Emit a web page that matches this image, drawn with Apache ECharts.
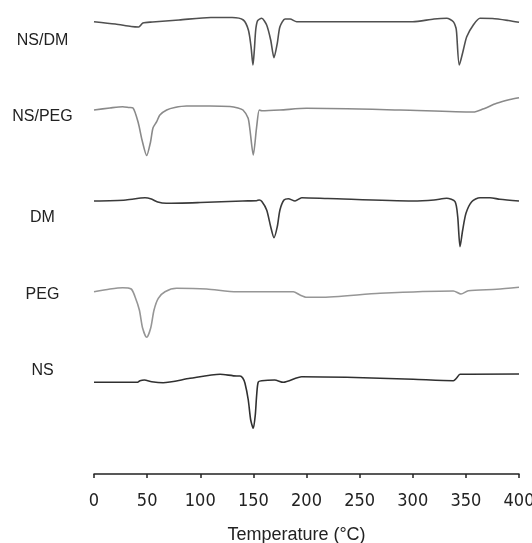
<!DOCTYPE html>
<html>
<head>
<meta charset="utf-8">
<script src="https://cdn.jsdelivr.net/npm/echarts@6/dist/echarts.min.js"></script>
<style>html,body{margin:0;padding:0;background:#fff;}#chart{width:532px;height:543px;}</style>
</head>
<body>
<div id="chart"></div>
<script>
// Curve names (top to bottom)
var sampleNames = ['NS/DM', 'NS/PEG', 'DM', 'PEG', 'NS'];
// X axis ticks (Temperature, °C)
var tempTicks = [0, 50, 100, 150, 200, 250, 300, 350, 400];

// DSC curves: [temperature °C, heat flow (a.u., stacked with offsets)]
var nsdm = [[0,452.3],[20,450],[35,447.5],[42,447],[46,451],[55,452],[80,454],[110,456.5],[130,456.5],[140.5,454],[145.3,444],[147.8,427.3],[149.6,409],[150.9,424],[152.2,444],[154,453.3],[157.8,455.7],[162.5,449],[166.3,434],[169.4,416.3],[172.5,430.7],[175,447.3],[179.8,455],[184.5,455],[190.8,452.3],[250,452.3],[300,452.3],[320,455],[332,455.7],[338.2,452.3],[340.7,446],[341.3,441],[343.8,409],[347.6,424],[350.8,437.3],[357,449],[363.3,455.7],[375,455.5],[390,453.5],[400,451.7]];
var nspeg = [[0,364],[15,366],[27,367.3],[33,366.5],[36.7,366],[41.7,351],[45.2,334],[49.6,318.5],[53.2,332],[55.5,346],[59,352.3],[62,359],[68.4,364],[76,366.5],[87.2,368],[109,368],[128,367.5],[135.5,366],[140.2,364],[145,356],[146.8,344],[149.9,319],[153.1,347.3],[155.6,364],[158,363.3],[175,364],[200,365.7],[288,364],[357,362],[366,365],[379,370.7],[391.5,374.5],[400,376.3]];
var dm = [[0,273],[30,274],[44,276],[48,276.3],[54,275],[60,272],[68,270.7],[100,271.5],[140,273],[153,273.3],[155.5,274],[158,272.5],[162.5,264],[166.3,247.3],[169.4,236.3],[172.5,247.3],[175,264],[178.8,274],[182.9,275.3],[189.2,273],[195.5,276.3],[220,275.5],[300,273],[320,274],[332,275.7],[339.8,272.3],[342.3,257.3],[344.5,227.3],[347,244],[350.1,260.7],[355.5,272.3],[363.3,276.3],[372.7,276.3],[382,274.7],[400,273]];
var peg = [[0,182.3],[15,185],[27,186.3],[35,185],[38.6,177.3],[42.7,164],[45.8,145.7],[49.6,136.7],[53.3,145.7],[56.5,164],[60.5,175.7],[66.8,182.3],[77.8,185.7],[106,185],[134.3,182.3],[187.6,182.3],[193.9,179],[200.2,176.7],[212.7,176.7],[269.2,180.7],[338.2,183],[345.4,180],[352.3,183.3],[379,184.7],[400,186.7]];
var ns = [[0,91.7],[41,91.7],[43.3,93.3],[47.4,94],[54.3,92.3],[65,91.3],[90.4,95.7],[118.6,99.7],[134.3,98],[137.4,98],[140,96],[142.1,90.7],[145.2,74],[147.5,54],[149.9,45.7],[151.8,59],[153.1,79],[154.6,92],[157.8,93.3],[170,94],[178.2,91.7],[195.5,97.3],[237.8,96.7],[300.5,94.7],[338.2,93.3],[341.3,96],[344.5,99.7],[400,100]];

var curves = [nsdm, nspeg, dm, peg, ns];
var colors = ['#505050', '#8a8a8a', '#3a3a3a', '#969696', '#303030'];
var labelY = [40.8, 116.5, 217.2, 294.2, 371];

// pick a condensed font for tick labels if one is installed
function hasFont(name) {
  var ctx = document.createElement('canvas').getContext('2d');
  var s = '0123456789 mmmwwwiii';
  ctx.font = '40px monospace';
  var a = ctx.measureText(s).width;
  ctx.font = '40px "' + name + '", monospace';
  var b = ctx.measureText(s).width;
  return a !== b;
}
var narrowCandidates = ['Liberation Sans Narrow', 'Arial Narrow', 'DejaVu Sans Condensed', 'Roboto Condensed', 'Open Sans Condensed'];
var tickFont = '"Liberation Sans", Arial, sans-serif';
var tickSize = 16;
for (var k = 0; k < narrowCandidates.length; k++) {
  if (hasFont(narrowCandidates[k])) {
    tickFont = '"' + narrowCandidates[k] + '"';
    tickSize = narrowCandidates[k].indexOf('DejaVu') >= 0 ? 18 : 19;
    break;
  }
}

var chart = echarts.init(document.getElementById('chart'), null, {renderer: 'canvas'});
var series = curves.map(function (d, i) {
  return {
    name: sampleNames[i],
    type: 'line',
    data: d,
    showSymbol: false,
    smooth: 0.25,
    lineStyle: {color: colors[i], width: 1.6},
    animation: false
  };
});
var graphics = sampleNames.map(function (n, i) {
  return {
    type: 'text',
    x: 42.5,
    y: labelY[i],
    style: {
      text: n,
      fill: '#222',
      font: '16px "Liberation Sans", Arial, sans-serif',
      textAlign: 'center',
      textVerticalAlign: 'middle'
    }
  };
});
chart.setOption({
  animation: false,
  backgroundColor: '#fff',
  grid: {left: 94, right: 13, top: 0, bottom: 69, outerBoundsMode: 'none', containLabel: false},
  xAxis: {
    type: 'value',
    min: 0,
    max: 400,
    interval: 50,
    name: 'Temperature (°C)',
    nameLocation: 'middle',
    nameGap: 52,
    nameTextStyle: {fontFamily: '"Liberation Sans", Arial, sans-serif', fontSize: 18, color: '#222', padding: [0, 20, 0, 0]},
    axisLine: {show: true, lineStyle: {color: '#222', width: 1.5}},
    axisTick: {show: true, length: 4, inside: false, lineStyle: {color: '#222', width: 1.5}},
    axisLabel: {
      margin: 18,
      fontFamily: tickFont,
      fontSize: tickSize,
      color: '#222',
      formatter: function (v) { return tempTicks.indexOf(v) >= 0 ? String(v) : ''; }
    },
    splitLine: {show: false}
  },
  yAxis: {
    type: 'value',
    min: 0,
    max: 474,
    show: false,
    splitLine: {show: false}
  },
  graphic: graphics,
  series: series
});
</script>
</body>
</html>
